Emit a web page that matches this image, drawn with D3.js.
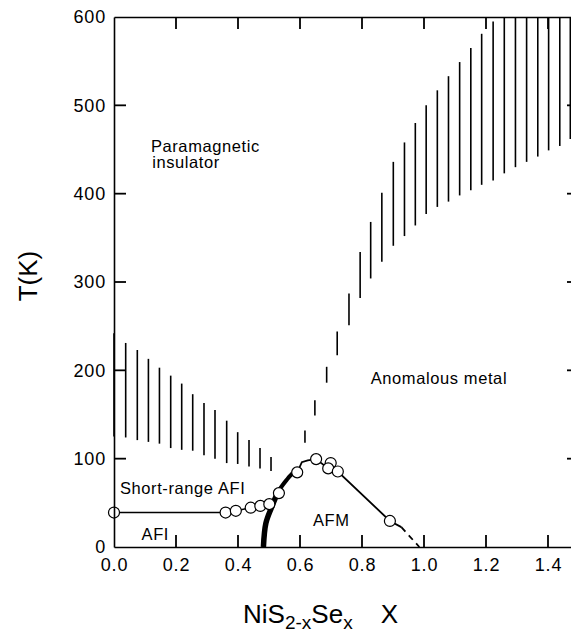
<!DOCTYPE html>
<html>
<head>
<meta charset="utf-8">
<script src="https://cdn.jsdelivr.net/npm/d3@7"></script>
<style>
body { margin: 0; background: #fff; }
svg { display: block; font-family: "Liberation Sans", Arial, Helvetica, sans-serif; }
</style>
</head>
<body>
<svg id="chart" width="571" height="634"></svg>
<script>
// ticks
var xTicks = [0, 0.2, 0.4, 0.6, 0.8, 1.0, 1.2, 1.4];
var yTicks = [0, 100, 200, 300, 400, 500, 600];
var yTicksRight = [100, 200, 300, 400, 500];

// measured transition points (open circles)
var pointX = [0.0, 0.36, 0.393, 0.441, 0.472, 0.501, 0.532, 0.591, 0.652, 0.699, 0.691, 0.722, 0.890];
var pointT = [39, 39, 41, 44.5, 46.5, 48.5, 61, 84.5, 99.5, 95, 89, 85.5, 29.5];

// thin line through the points
var lineX = [0.0, 0.36, 0.393, 0.441, 0.472, 0.501, 0.532];
var lineT = [39, 39, 41, 44.5, 46.5, 48.5, 61];
var peakX = [0.591, 0.606, 0.625, 0.652, 0.691, 0.722, 0.890, 0.927];
var peakT = [84.5, 96, 98, 99.5, 89, 85.5, 29.5, 22.5];
// dashed end of the AFM line
var tailX = [0.927, 0.985];
var tailT = [22.5, 0];

// thick AFI / AFM boundary
var boundX = [0.482, 0.490, 0.509, 0.527, 0.557, 0.577, 0.591];
var boundT = [0, 27, 45.5, 61, 76, 83.5, 85];

// hatched crossover regions (vertical bars, low / high T)
var leftHatchX = [0.0, 0.0377, 0.0752, 0.111, 0.1466, 0.1829, 0.2184, 0.2539, 0.2903, 0.3258, 0.3635, 0.399, 0.4355, 0.471, 0.5065];
var leftHatchLo = [125, 124, 121, 119, 117, 112, 110, 109, 104, 100, 95, 94, 91, 89, 86];
var leftHatchHi = [242, 231, 223, 213, 203, 194, 185, 173, 163, 155, 143, 130, 121, 112, 102];

var rightHatchX = [0.616, 0.648, 0.686, 0.720, 0.758, 0.794, 0.828, 0.864, 0.901, 0.937, 0.972, 1.007, 1.043, 1.079, 1.115, 1.151, 1.186, 1.223, 1.259, 1.295, 1.331, 1.367, 1.402, 1.438, 1.472];
var rightHatchLo = [118, 149, 186, 217, 251, 282, 304, 323, 341, 352, 364, 377, 385, 391, 398, 404, 410, 415, 423, 430, 436, 442, 449, 454, 462];
var rightHatchHi = [132, 166, 204, 244, 287, 334, 368, 401, 436, 458, 480, 500, 517, 533, 549, 565, 581, 595, 600, 600, 600, 600, 600, 600, 600];

var svg = d3.select('#chart');
var plotLeft = 114, plotTop = 17, plotBottom = 547, tickLen = 12;

var x = d3.scaleLinear().domain([0, 1.5]).range([plotLeft, plotLeft + 1.5 * 310]);
var y = d3.scaleLinear().domain([0, 600]).range([plotBottom, plotTop]);
var plotRight = x(1.5);

var font = '"Liberation Sans", Arial, Helvetica, sans-serif';

// hatches
function hatch(xs, lo, hi) {
    svg.append('g').selectAll('line')
        .data(xs)
        .enter()
        .append('line')
        .attr('x1', function (d) { return x(d); })
        .attr('x2', function (d) { return x(d); })
        .attr('y1', function (d, i) { return y(lo[i]); })
        .attr('y2', function (d, i) { return y(hi[i]); })
        .attr('stroke', '#000')
        .attr('stroke-width', 1.6);
}
hatch(leftHatchX, leftHatchLo, leftHatchHi);
hatch(rightHatchX, rightHatchLo, rightHatchHi);

var line = d3.line()
    .x(function (d) { return x(d[0]); })
    .y(function (d) { return y(d[1]); });

function pairs(a, b) { return a.map(function (v, i) { return [v, b[i]]; }); }

svg.append('path')
    .attr('d', line(pairs(lineX, lineT)))
    .attr('fill', 'none').attr('stroke', '#000').attr('stroke-width', 1.5);
svg.append('path')
    .attr('d', line(pairs(peakX, peakT)))
    .attr('fill', 'none').attr('stroke', '#000').attr('stroke-width', 1.8);
svg.append('path')
    .attr('d', line(pairs(tailX, tailT)))
    .attr('fill', 'none').attr('stroke', '#000').attr('stroke-width', 1.8)
    .attr('stroke-dasharray', '6,5');

// thick boundary
var curve = d3.line()
    .x(function (d) { return x(d[0]); })
    .y(function (d) { return y(d[1]); })
    .curve(d3.curveCatmullRom);
var bpts = pairs(boundX, boundT);
svg.append('path')
    .attr('d', curve(bpts))
    .attr('fill', 'none').attr('stroke', '#000').attr('stroke-width', 4);
svg.append('path')
    .attr('d', curve(bpts.slice(0, 4)))
    .attr('fill', 'none').attr('stroke', '#000').attr('stroke-width', 5.5);

// circles
svg.append('g').selectAll('circle')
    .data(pairs(pointX, pointT))
    .enter()
    .append('circle')
    .attr('cx', function (d) { return x(d[0]); })
    .attr('cy', function (d) { return y(d[1]); })
    .attr('r', 5.5)
    .attr('fill', '#fff')
    .attr('stroke', '#000')
    .attr('stroke-width', 1.2);

// axes (labels from d3 axes, inward ticks drawn below)
function style(g) {
    g.select('.domain').attr('stroke-width', 1.6);
    g.selectAll('.tick text')
        .attr('font-family', font)
        .attr('font-size', 18)
        .attr('letter-spacing', 0.8)
        .attr('fill', '#000');
}

svg.append('g')
    .attr('transform', 'translate(0,' + plotBottom + ')')
    .call(d3.axisBottom(x).tickValues(xTicks).tickFormat(d3.format('.1f'))
        .tickSize(0).tickPadding(11))
    .call(style);

svg.append('g')
    .attr('transform', 'translate(0,' + plotTop + ')')
    .call(d3.axisTop(x).tickValues([]).tickSize(0))
    .call(style);

svg.append('g')
    .attr('transform', 'translate(' + plotLeft + ',0)')
    .call(d3.axisLeft(y).tickValues(yTicks).tickFormat(d3.format('d'))
        .tickSize(0).tickPadding(8))
    .call(style);

var tickG = svg.append('g');
function tickLines(cls, data, x1, x2, y1, y2) {
    tickG.selectAll('line.' + cls).data(data).enter().append('line')
        .attr('class', cls)
        .attr('x1', x1).attr('x2', x2).attr('y1', y1).attr('y2', y2)
        .attr('stroke', '#000')
        .attr('stroke-width', 1.8);
}
tickLines('xb', xTicks.slice(1), function (d) { return x(d); }, function (d) { return x(d); }, plotBottom, plotBottom - tickLen);
tickLines('xt', xTicks.slice(1), function (d) { return x(d); }, function (d) { return x(d); }, plotTop, plotTop + tickLen);
tickLines('yl', yTicksRight, plotLeft, plotLeft + tickLen, function (d) { return y(d); }, function (d) { return y(d); });
tickLines('yr', yTicksRight, plotRight, plotRight - tickLen, function (d) { return y(d); }, function (d) { return y(d); });

// region labels
function label(tx, ty, s) {
    svg.append('text')
        .attr('x', tx).attr('y', ty)
        .attr('font-family', font)
        .attr('font-size', 16.5)
        .attr('letter-spacing', 0.6)
        .text(s);
}
label(x(0.119), y(447), 'Paramagnetic');
label(x(0.123), y(429), 'insulator');
label(x(0.828), y(184.5), 'Anomalous metal');
label(x(0.019), y(60), 'Short-range AFI');
label(x(0.089), y(8), 'AFI');
label(x(0.642), y(24), 'AFM');

// axis titles
svg.append('text')
    .attr('transform', 'translate(37,276) rotate(-90)')
    .attr('text-anchor', 'middle')
    .attr('font-family', font)
    .attr('font-size', 26)
    .text('T(K)');

var xt = svg.append('text')
    .attr('x', 243).attr('y', 623)
    .attr('font-family', font)
    .attr('font-size', 26);
xt.append('tspan').text('NiS');
xt.append('tspan').attr('font-size', 19).attr('dy', 6).text('2-x');
xt.append('tspan').attr('dy', -6).text('Se');
xt.append('tspan').attr('font-size', 19).attr('dy', 6).text('x');
xt.append('tspan').attr('dy', -6).attr('dx', 28).text('X');
</script>
</body>
</html>
